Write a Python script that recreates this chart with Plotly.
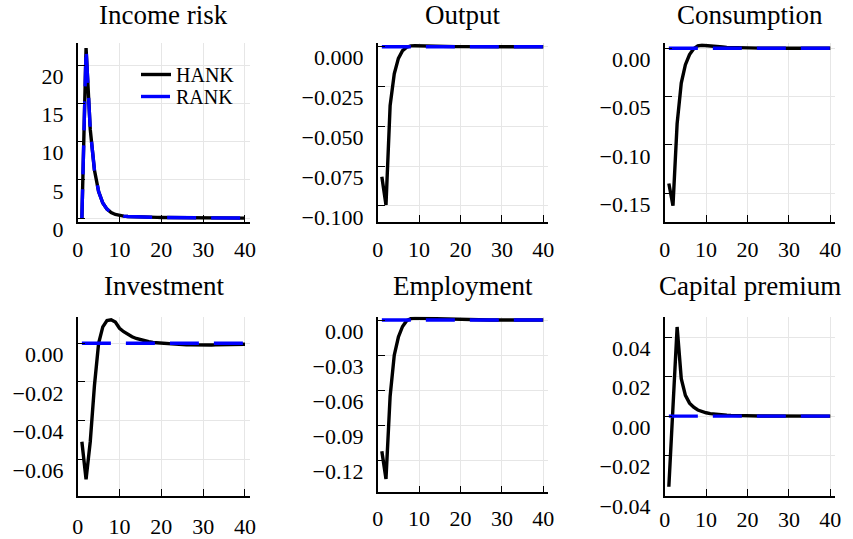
import plotly.graph_objects as go

# Impulse responses over 40 periods: HANK vs RANK
periods = list(range(1, 41))

income_risk_hank = [
    0.0, 22.2, 11.6, 6.3, 3.5, 2.0, 1.2, 0.75, 0.5, 0.36,
    0.28, 0.23, 0.2, 0.18, 0.16, 0.15, 0.14, 0.13, 0.12, 0.11,
    0.1, 0.1, 0.09, 0.09, 0.08, 0.08, 0.07, 0.07, 0.06, 0.06,
    0.06, 0.05, 0.05, 0.05, 0.04, 0.04, 0.04, 0.04, 0.03, 0.03,
]
income_risk_rank = [
    0.0, 22.2, 11.6, 6.3, 3.5, 2.0, 1.2, 0.75, 0.5, 0.36,
    0.28, 0.23, 0.2, 0.18, 0.16, 0.15, 0.14, 0.13, 0.12, 0.11,
    0.1, 0.1, 0.09, 0.09, 0.08, 0.08, 0.07, 0.07, 0.06, 0.06,
    0.06, 0.05, 0.05, 0.05, 0.04, 0.04, 0.04, 0.04, 0.03, 0.03,
]
output_hank = [
    -0.0817, -0.0994, -0.037, -0.017, -0.0073, -0.0025, -0.0003, 0.0005, 0.0006, 0.0005,
    0.0004, 0.0003, 0.00025, 0.0002, 0.00015, 0.0001, 0.0001, 0.00008, 0.00006, 0.00005,
    0.00004, 0.00004, 0.00003, 0.00003, 0.00002, 0.00002, 0.00002, 0.00001, 0.00001, 0.00001,
    0.00001, 0.0, 0.0, 0.0, 0.0, 0.0, 0.0, 0.0, 0.0, 0.0,
]
consumption_hank = [
    -0.14, -0.163, -0.078, -0.036, -0.017, -0.0065, -0.0005, 0.0025, 0.0032, 0.003,
    0.0026, 0.0021, 0.0017, 0.0013, 0.001, 0.0008, 0.0006, 0.0005, 0.0004, 0.0003,
    0.00025, 0.0002, 0.00015, 0.00012, 0.0001, 0.00008, 0.00006, 0.00005, 0.00004, 0.00003,
    0.00002, 0.00002, 0.00001, 0.00001, 0.0, 0.0, 0.0, 0.0, 0.0, 0.0,
]
investment_hank = [
    -0.051, -0.0705, -0.051, -0.022, 0.0, 0.0085, 0.0118, 0.0122, 0.011, 0.0078,
    0.006, 0.0045, 0.0034, 0.0025, 0.0018, 0.0012, 0.0008, 0.0004, 0.0002, 0.0,
    -0.0002, -0.0004, -0.0005, -0.0006, -0.0007, -0.0008, -0.0008, -0.0009, -0.0009, -0.0009,
    -0.0009, -0.0009, -0.0008, -0.0008, -0.0007, -0.0007, -0.0006, -0.0006, -0.0005, -0.0005,
]
employment_hank = [
    -0.112, -0.1355, -0.065, -0.03, -0.0145, -0.0055, -0.0006, 0.0012, 0.0016, 0.0015,
    0.0013, 0.0011, 0.0009, 0.0007, 0.0006, 0.0005, 0.0004, 0.0003, 0.00025, 0.0002,
    0.00015, 0.00012, 0.0001, 0.00008, 0.00006, 0.00005, 0.00004, 0.00003, 0.00002, 0.00002,
    0.00001, 0.00001, 0.0, 0.0, 0.0, 0.0, 0.0, 0.0, 0.0, 0.0,
]
capital_premium_hank = [
    -0.0358, 0.007, 0.0452, 0.019, 0.0105, 0.0066, 0.0045, 0.0031, 0.0023, 0.0017,
    0.0013, 0.001, 0.0008, 0.0006, 0.0005, 0.0004, 0.0003, 0.00025, 0.0002, 0.00015,
    0.00012, 0.0001, 0.00008, 0.00006, 0.00005, 0.00004, 0.00003, 0.00002, 0.00002, 0.00001,
    0.00001, 0.00001, 0.0, 0.0, 0.0, 0.0, 0.0, 0.0, 0.0, 0.0,
]
# RANK responses of the aggregates stay at steady state
rank_flat = [
    0.0, 0.0, 0.0, 0.0, 0.0, 0.0, 0.0, 0.0, 0.0, 0.0,
    0.0, 0.0, 0.0, 0.0, 0.0, 0.0, 0.0, 0.0, 0.0, 0.0,
    0.0, 0.0, 0.0, 0.0, 0.0, 0.0, 0.0, 0.0, 0.0, 0.0,
    0.0, 0.0, 0.0, 0.0, 0.0, 0.0, 0.0, 0.0, 0.0, 0.0,
]

panel_titles = ["Income risk", "Output", "Consumption",
                "Investment", "Employment", "Capital premium"]

x_tick_vals = [0, 10, 20, 30, 40]
x_tick_text = ["0", "10", "20", "30", "40"]

income_risk_ticks = [0, 5, 10, 15, 20]
income_risk_tick_text = ["0", "5", "10", "15", "20"]
output_ticks = [0.0, -0.025, -0.05, -0.075, -0.1]
output_tick_text = ["0.000", "\u22120.025", "\u22120.050", "\u22120.075", "\u22120.100"]
consumption_ticks = [0.0, -0.05, -0.1, -0.15]
consumption_tick_text = ["0.00", "\u22120.05", "\u22120.10", "\u22120.15"]
investment_ticks = [0.0, -0.02, -0.04, -0.06]
investment_tick_text = ["0.00", "\u22120.02", "\u22120.04", "\u22120.06"]
employment_ticks = [0.0, -0.03, -0.06, -0.09, -0.12]
employment_tick_text = ["0.00", "\u22120.03", "\u22120.06", "\u22120.09", "\u22120.12"]
capital_premium_ticks = [0.04, 0.02, 0.0, -0.02, -0.04]
capital_premium_tick_text = ["0.04", "0.02", "0.00", "\u22120.02", "\u22120.04"]

panels = [
    (income_risk_hank, income_risk_rank, income_risk_ticks, income_risk_tick_text),
    (output_hank, rank_flat, output_ticks, output_tick_text),
    (consumption_hank, rank_flat, consumption_ticks, consumption_tick_text),
    (investment_hank, rank_flat, investment_ticks, investment_tick_text),
    (employment_hank, rank_flat, employment_ticks, employment_tick_text),
    (capital_premium_hank, rank_flat, capital_premium_ticks, capital_premium_tick_text),
]

# ---- layout geometry (pixels on an 853 x 539 canvas) ----
W, H = 853, 539
boxes = [  # left, right, top, bottom
    (77.7, 250.0, 43.3, 222.0),
    (377.7, 548.3, 43.3, 222.0),
    (664.7, 835.3, 43.3, 222.0),
    (77.7, 250.0, 316.7, 495.7),
    (377.7, 548.3, 316.7, 492.3),
    (664.7, 835.3, 316.7, 495.7),
]
y_ranges = [
    (-0.48, 22.83),
    (-0.1101, 0.00214),
    (-0.1798, 0.00518),
    (-0.07896, 0.01378),
    (-0.1469, 0.00281),
    (-0.04035, 0.05043),
]
x_label_standoff = [7, 7, 7, 10, 5, 3]
title_shift = [28, 28, 28, 31, 31, 31]
x_range = (0, 41.2)

FONT = "Liberation Serif"
HANK_COLOR = "#000000"
RANK_COLOR = "#0000ff"

fig = go.Figure()
legend_common = dict(
    xanchor="left", yanchor="top",
    bgcolor="rgba(0,0,0,0)", borderwidth=0,
    font=dict(family=FONT, size=20, color="black"),
    itemwidth=30, tracegroupgap=0,
)
layout = dict(
    template="none",
    width=W, height=H,
    margin=dict(l=0, r=0, t=0, b=0, autoexpand=False),
    paper_bgcolor="white", plot_bgcolor="white",
    font=dict(family=FONT, size=22, color="black"),
    showlegend=True,
    legend=dict(legend_common, x=136 / W, y=1 - 55 / H),
    legend2=dict(legend_common, x=136 / W, y=1 - 77 / H),
    annotations=[],
)

axis_common = dict(
    showline=True, linecolor="black", linewidth=1.6, mirror=False,
    ticks="inside", ticklen=7, tickwidth=1.4, tickcolor="black",
    showgrid=True, gridcolor="#e6e6e6", gridwidth=1,
    zeroline=False, fixedrange=True, automargin=False,
    tickfont=dict(family=FONT, size=22, color="black"),
)

for i, (hank, rank, yt, ytt) in enumerate(panels, start=1):
    l, r, t, b = boxes[i - 1]
    sfx = "" if i == 1 else str(i)
    layout["xaxis" + sfx] = dict(
        axis_common, domain=[l / W, r / W], range=list(x_range),
        anchor="y" + sfx, tickmode="array", tickvals=x_tick_vals, ticktext=x_tick_text,
        ticklabelstandoff=x_label_standoff[i - 1],
    )
    layout["yaxis" + sfx] = dict(
        axis_common, domain=[1 - b / H, 1 - t / H], range=list(y_ranges[i - 1]),
        anchor="x" + sfx, tickmode="array", tickvals=yt, ticktext=ytt,
        ticklabelstandoff=8, ticklabelshift=11,
    )
    fig.add_trace(go.Scatter(
        x=periods, y=hank, mode="lines", name="HANK",
        line=dict(color=HANK_COLOR, width=3.4),
        xaxis="x" + sfx, yaxis="y" + sfx,
        legend="legend", showlegend=(i == 1),
    ))
    fig.add_trace(go.Scatter(
        x=periods, y=rank, mode="lines", name="RANK",
        line=dict(color=RANK_COLOR, width=3.4, dash="29px,15px"),
        xaxis="x" + sfx, yaxis="y" + sfx,
        legend="legend2", showlegend=(i == 1),
    ))
    layout["annotations"].append(dict(
        text=panel_titles[i - 1], showarrow=False,
        xref="x" + sfx + " domain", yref="y" + sfx + " domain",
        x=0.5, y=1, xanchor="center", yanchor="middle", yshift=title_shift[i - 1],
        font=dict(family=FONT, size=27, color="black"),
    ))

fig.update_layout(**layout)
fig.write_html("out.html")
